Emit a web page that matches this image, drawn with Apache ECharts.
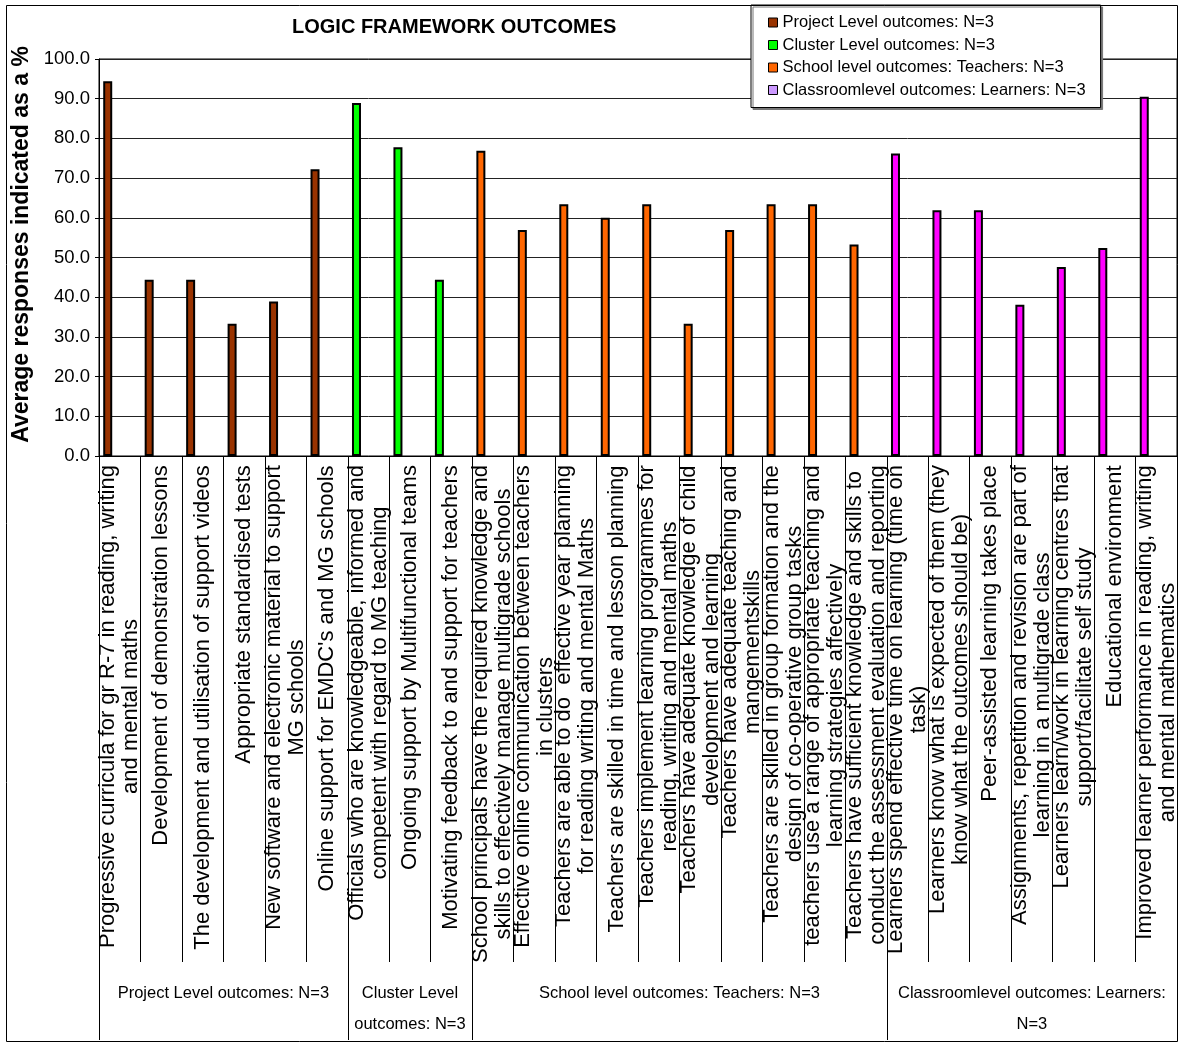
<!DOCTYPE html>
<html>
<head>
<meta charset="utf-8">
<script src="https://cdn.jsdelivr.net/npm/echarts@6/dist/echarts.min.js"></script>
<style>
  html, body { margin: 0; padding: 0; background: #fff; }
  #chart { width: 1182px; height: 1046px; }
</style>
</head>
<body>
<div id="chart"></div>
<script>
// category labels (line breaks as in the source chart)
const categories = [
  "Progressive curricula for gr R-7 in reading, writing\nand mental maths",
  "Development of demonstration lessons",
  "The development and utilisation of support videos",
  "Appropriate standardised tests",
  "New software and electronic material to support\nMG schools",
  "Online support for EMDC's and MG schools",
  "Officials who are knowledgeable, informed and\ncompetent with regard to MG teaching",
  "Ongoing support by Multifunctional teams",
  "Motivating feedback to and support for teachers",
  "School principals have the required knowledge and\nskills to effectively manage multigrade schools",
  "Effective online communication between teachers\nin clusters",
  "Teachers are able to do  effective year planning\nfor reading writing and mental Maths",
  "Teachers are skilled in time and lesson planning",
  "Teachers implement learning programmes for\nreading, writing and mental maths",
  "Teachers have adequate knowledge of child\ndevelopment and learning",
  "Teachers have adequate teaching and\nmangementskills",
  "Teachers are skilled in group formation and the\ndesign of co-operative group tasks",
  "teachers use a range of appropriate teaching and\nlearning strategies affectively",
  "Teachers have sufficient knowledge and skills to\nconduct the assessment evaluation and reporting",
  "Learners spend effective time on learning (time on\ntask)",
  "Learners know what is expected of them (they\nknow what the outcomes should be)",
  "Peer-assisted learning takes place",
  "Assignments, repetition and revision are part of\nlearning in a multigrade class",
  "Learners learn/work in learning centres that\nsupport/facilitate self study",
  "Educational environment",
  "Improved learner performance in reading, writing\nand mental mathematics"
];

// values per level (%)
const projectValues = [94.4, 44.4, 44.4, 33.3, 38.9, 72.2];
const clusterValues = [88.9, 77.8, 44.4];
const schoolValues = [76.9, 56.9, 63.4, 60.0, 63.4, 33.3, 56.9, 63.4, 63.4, 53.3];
const classroomValues = [76.2, 61.9, 61.9, 38.1, 47.6, 52.4, 90.5];

const seriesNames = [
  'Project Level outcomes: N=3',
  'Cluster Level outcomes: N=3',
  'School level outcomes: Teachers: N=3',
  'Classroomlevel outcomes: Learners: N=3'
];
const groupLabels = [
  'Project Level outcomes: N=3',
  'Cluster Level\noutcomes: N=3',
  'School level outcomes: Teachers: N=3',
  'Classroomlevel outcomes: Learners:\nN=3'
];

const FONT = '"Liberation Sans", Arial, sans-serif';
const barColors = ['#993300', '#00FF00', '#FF6600', '#FF00FF'];
const legendColors = ['#993300', '#00FF00', '#FF6600', '#CC99FF'];

const groups = [projectValues, clusterValues, schoolValues, classroomValues];
const groupStarts = [];
let pos = 0;
groups.forEach(g => { groupStarts.push(pos); pos += g.length; });
const boundaries = groupStarts.concat([pos]);
const groupCenters = groups.map((g, i) => groupStarts[i] + g.length / 2);

// one series per level, spread across the full category list
function spread(vals, start) {
  const arr = new Array(categories.length).fill(null);
  vals.forEach((v, i) => { arr[start + i] = v; });
  return arr;
}

// measure label lines so wrapped lines can be centred on each other
const LABEL_SIZE = 22;
const ctx = document.createElement('canvas').getContext('2d');
ctx.font = LABEL_SIZE + 'px ' + FONT;
const rich = {};
categories.forEach((t, i) => {
  const w = Math.max(...t.split('\n').map(s => ctx.measureText(s).width));
  rich['c' + i] = {
    width: Math.ceil(w) + 2, align: 'center',
    fontSize: LABEL_SIZE, lineHeight: 23, fontFamily: FONT, color: '#000'
  };
});

const chart = echarts.init(document.getElementById('chart'));

const barSeries = groups.map((g, i) => ({
  name: seriesNames[i],
  type: 'bar',
  stack: 'levels',
  xAxisIndex: 0,
  barWidth: 9,
  barGap: '167%',
  data: spread(g, groupStarts[i]),
  itemStyle: { color: barColors[i], borderColor: '#000', borderWidth: 2 }
}));
// empty slot so the bars sit left of the category centre like the original
barSeries.push({
  name: 'pad', type: 'bar', stack: 'pad', xAxisIndex: 0,
  barWidth: 9, barGap: '167%',
  data: new Array(categories.length).fill(null)
});

const option = {
  animation: false,
  backgroundColor: '#fff',
  title: {
    text: 'LOGIC FRAMEWORK OUTCOMES',
    left: 292, top: 17, padding: 0,
    textStyle: { fontFamily: FONT, fontWeight: 'bold', fontSize: 20, color: '#000' }
  },
  legend: {
    orient: 'vertical',
    left: 751, top: 5,
    padding: [9, 15, 9, 17],
    itemWidth: 9, itemHeight: 9, itemGap: 5.5,
    backgroundColor: '#fff',
    borderColor: '#000', borderWidth: 1,
    shadowColor: '#777', shadowOffsetX: 2, shadowOffsetY: 2, shadowBlur: 0,
    textStyle: { fontFamily: FONT, fontSize: 16.5, color: '#000' },
    data: seriesNames.map((n, i) => ({
      name: n, icon: 'rect',
      itemStyle: { color: legendColors[i], borderColor: '#000', borderWidth: 1 }
    }))
  },
  grid: {
    left: 99, right: 5, top: 59, bottom: 590,
    show: true, borderColor: '#000', borderWidth: 1, backgroundColor: '#fff'
  },
  xAxis: [
    {
      type: 'category',
      data: categories,
      axisLine: { lineStyle: { color: '#000', width: 1 } },
      axisTick: { show: true, interval: 0, length: 506, lineStyle: { color: '#000', width: 1 } },
      axisLabel: {
        interval: 0, rotate: 90, margin: 8, hideOverlap: false,
        fontFamily: FONT, fontSize: LABEL_SIZE, color: '#000',
        formatter: (v, i) => v.split('\n').map(s => '{c' + i + '|' + s + '}').join('\n'),
        rich: rich
      }
    },
    {
      type: 'value',
      position: 'bottom', offset: 0,
      min: 0, max: categories.length,
      axisLine: { show: false },
      splitLine: { show: false },
      axisTick: {
        show: true, customValues: boundaries, length: 584,
        lineStyle: { color: '#000', width: 1 }
      },
      axisLabel: {
        customValues: groupCenters, margin: 522, hideOverlap: false,
        verticalAlign: 'top', align: 'center',
        fontFamily: FONT, fontSize: 16.5, lineHeight: 31, color: '#000',
        formatter: v => groupLabels[groupCenters.indexOf(v)] || ''
      }
    }
  ],
  yAxis: {
    type: 'value',
    min: 0, max: 100, interval: 10,
    name: 'Average responses indicated as a %',
    nameLocation: 'middle', nameRotate: 90, nameGap: 60,
    nameTextStyle: {
      fontFamily: FONT, fontWeight: 'bold', fontSize: 23, color: '#000',
      padding: [0, 0, 0, 26]
    },
    axisLine: { show: true, lineStyle: { color: '#000', width: 1 } },
    axisTick: { show: true, length: 4, lineStyle: { color: '#000' } },
    axisLabel: {
      margin: 9, fontFamily: FONT, fontSize: 18.5, color: '#000',
      formatter: v => v.toFixed(1)
    },
    splitLine: { lineStyle: { color: '#222', width: 1 } }
  },
  graphic: [{
    type: 'rect', silent: true, z: 100,
    shape: { x: 6.5, y: 5.5, width: 1171, height: 1036 },
    style: { fill: 'none', stroke: '#000', lineWidth: 1 }
  }],
  series: barSeries
};

chart.setOption(option);
</script>
</body>
</html>
